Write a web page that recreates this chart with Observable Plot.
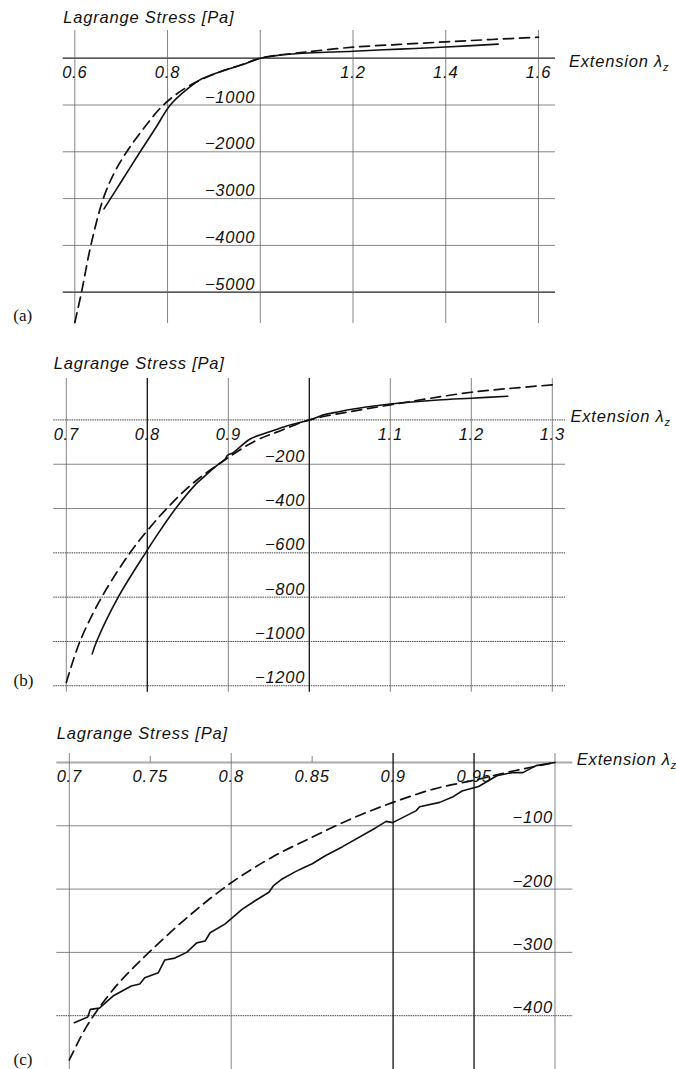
<!DOCTYPE html>
<html><head><meta charset="utf-8">
<script src="https://cdn.jsdelivr.net/npm/d3@7"></script>
<script src="https://cdn.jsdelivr.net/npm/@observablehq/plot@0.6"></script>
<style>
body{margin:0;background:#fff}
#chart{width:676px}
#chart svg{display:block}
</style>
</head><body><div id="chart"></div>
<script>
// ---------- Panel (a) ----------
const A_xGrid = [0.6, 0.8, 1.0, 1.2, 1.4, 1.6];
const A_xLabels = [0.6, 0.8, 1.2, 1.4, 1.6];
const A_yGrid = [-1000, -2000, -3000, -4000];
const A_yGridStrong = [0, -5000];
const A_yLabels = [-1000, -2000, -3000, -4000, -5000];
const A_solidLambda = [0.663, 0.700, 0.741, 0.775, 0.806, 0.845, 0.874, 0.925, 0.961, 1.0, 1.03, 1.07, 1.2, 1.3, 1.4, 1.513];
const A_solidStress = [-3220, -2640, -2000, -1480, -1000, -640, -440, -250, -140, 0, 50, 90, 150, 195, 238, 300];
const A_dashLambda = [0.6, 0.6145, 0.6346, 0.6614, 0.685, 0.712, 0.75, 0.791, 0.838, 0.874, 0.925, 0.961, 1.0, 1.03, 1.07, 1.1, 1.2, 1.3, 1.4, 1.5, 1.6];
const A_dashStress = [-5650, -5000, -4000, -3000, -2450, -2000, -1480, -1000, -640, -450, -250, -135, 0, 55, 100, 135, 235, 295, 350, 400, 450];

// ---------- Panel (b) ----------
const B_xGrid = [0.7, 0.9, 1.1, 1.2, 1.3];
const B_xGridStrong = [0.8, 1.0];
const B_xLabels = [0.7, 0.8, 0.9, 1.1, 1.2, 1.3];
const B_yGrid = [-200, -400];
const B_yGridDotted = [0, -600, -800, -1000, -1200];
const B_yLabels = [-200, -400, -600, -800, -1000, -1200];
const B_solidLambda = [0.732, 0.7374, 0.7641, 0.7978, 0.812, 0.835, 0.86, 0.872, 0.888, 0.896, 0.899, 0.906, 0.927, 0.95, 0.973, 1.0, 1.02, 1.035, 1.07, 1.1, 1.159, 1.2, 1.245];
const B_solidStress = [-1056, -1000, -800, -600, -520, -400, -290, -250, -200, -178, -160, -148, -86, -55, -26, 0, 25, 36, 58, 72, 90, 98, 107];
const B_dashLambda = [0.7, 0.7168, 0.7437, 0.7786, 0.8, 0.824, 0.855, 0.888, 0.933, 0.96, 1.0, 1.05, 1.1, 1.15, 1.2, 1.25, 1.3];
const B_dashStress = [-1185, -1000, -800, -600, -500, -400, -290, -200, -95, -55, 0, 37, 68, 98, 125, 143, 158];

// ---------- Panel (c) ----------
const C_xGrid = [0.7, 0.8, 1.0];
const C_xGridStrong = [0.9, 0.95];
const C_xMinor = [0.75, 0.85];
const C_xLabels = [0.7, 0.75, 0.8, 0.85, 0.9, 0.95];
const C_yGrid = [-100, -200, -300];
const C_yGridDotted = [-400];
const C_yAxis = [0];
const C_yLabels = [-100, -200, -300, -400];
const C_solidLambda = [0.7031, 0.7114, 0.713, 0.7186, 0.727, 0.7383, 0.7435, 0.7466, 0.755, 0.759, 0.7652, 0.7725, 0.7787, 0.7839, 0.787, 0.7963, 0.8067, 0.815, 0.8233, 0.826, 0.8315, 0.84, 0.845, 0.8501, 0.8584, 0.8688, 0.8894, 0.8957, 0.8998, 0.9143, 0.9164, 0.9288, 0.9371, 0.9426, 0.9528, 0.9641, 0.9735, 0.9802, 0.9883, 1.0];
const C_solidStress = [-411, -402, -390, -388, -369, -353, -350, -340, -332, -312, -309, -300, -285, -282, -269, -255, -232, -218, -205, -195, -184, -172, -166, -160, -147, -133, -103, -93, -95, -76, -70, -63, -54, -45, -38, -21, -16, -16, -5, 0];
const C_dashLambda = [0.7, 0.71, 0.72, 0.73, 0.74, 0.75, 0.775, 0.8, 0.825, 0.85, 0.875, 0.9, 0.925, 0.95, 0.975, 1.0];
const C_dashStress = [-470, -420, -382, -350, -323, -298, -240, -190, -150, -118, -88, -63, -42, -28, -13, 0];

const minus = d => d < 0 ? "\u2212" + Math.abs(d) : String(d);
const FONT = {fontFamily: "'Liberation Sans', Arial, sans-serif", fontStyle: "italic", fontSize: 16.5, fill: "#111"};

function panel(o) {
  const solid = o.solidX.map((x, i) => ({x, y: o.solidY[i]}));
  const dash = o.dashX.map((x, i) => ({x, y: o.dashY[i]}));
  const marks = [];
  const g = o.grid;
  if (g.yNormal) marks.push(Plot.ruleY(g.yNormal, {stroke: "#666", strokeWidth: 0.8}));
  if (g.yDotted) marks.push(Plot.ruleY(g.yDotted, {stroke: "#444", strokeWidth: 1, strokeDasharray: "1.5,0.8"}));
  if (g.yLight) marks.push(Plot.ruleY(g.yLight, {stroke: "#aaa", strokeWidth: 1.8}));
  if (g.yStrong) marks.push(Plot.ruleY(g.yStrong, {stroke: "#222", strokeWidth: 1.3}));
  if (g.xNormal) marks.push(Plot.ruleX(g.xNormal, {stroke: "#666", strokeWidth: 0.8}));
  if (g.xStrong) marks.push(Plot.ruleX(g.xStrong, {stroke: "#111", strokeWidth: 1.3}));
  if (g.xMinor) marks.push(Plot.ruleX(g.xMinor, {y1: 0, y2: 0, insetBottom: 6, stroke: "#666", strokeWidth: 0.8}));
  marks.push(Plot.line(dash, {x: "x", y: "y", stroke: "#111", strokeWidth: 1.7, strokeDasharray: o.dashArray, curve: "catmull-rom"}));
  marks.push(Plot.line(solid, {x: "x", y: "y", stroke: "#111", strokeWidth: 1.6, curve: o.solidCurve}));
  marks.push(Plot.text(o.xLabels, {x: d => d, y: () => 0, text: d => String(d), lineAnchor: "top", dy: 8, ...FONT}));
  marks.push(Plot.text(o.yLabels, {x: () => 1.0, y: d => d, text: minus, textAnchor: "end", lineAnchor: "bottom", dx: o.yLabelDx, dy: -2.5, ...FONT}));
  marks.push(Plot.text(["Lagrange Stress [Pa]"], {frameAnchor: "top-left", textAnchor: "start", lineAnchor: "bottom", dy: o.titleDy, ...FONT}));
  marks.push(Plot.text(["Extension \u03bb"], {frameAnchor: "right", y: () => 0, textAnchor: "start", lineAnchor: "bottom", dx: o.extDx, dy: o.extDy, ...FONT}));
  marks.push(Plot.text([o.tag], {frameAnchor: "bottom-left", textAnchor: "start", lineAnchor: "bottom", dx: o.tagDx, dy: o.tagDy, fontFamily: "'Liberation Serif', 'Times New Roman', serif", fontSize: 17, fill: "#111"}));
  const svg = Plot.plot({
    width: 676, height: o.height,
    marginLeft: o.mL, marginRight: o.mR, marginTop: o.mT, marginBottom: o.mB,
    x: {domain: o.xDomain, axis: null},
    y: {domain: o.yDomain, axis: null},
    style: {background: "#fff", overflow: "visible", letterSpacing: "0.8px"},
    marks
  });
  d3.select(svg).selectAll("text").filter(function() { return this.textContent === "Extension \u03bb"; })
    .append("tspan").attr("dy", "0.35em").attr("font-size", 11).text("z");
  d3.select(svg).selectAll("text").filter(function() { return /^\([abc]\)$/.test(this.textContent); })
    .attr("letter-spacing", 0);
  return svg;
}

const root = document.getElementById("chart");
root.append(panel({
  height: 330, mL: 62.8, mR: 121, mT: 30, mB: 7,
  xDomain: [0.5752, 1.6367], yDomain: [-5669, 592],
  grid: {yNormal: A_yGrid, yStrong: A_yGridStrong, xNormal: A_xGrid},
  xLabels: A_xLabels, yLabels: A_yLabels,
  solidX: A_solidLambda, solidY: A_solidStress, dashX: A_dashLambda, dashY: A_dashStress,
  solidCurve: "catmull-rom",
  dashArray: "10,6", yLabelDx: -5, titleDy: -7.3, extDx: 13.5, extDy: 9, tag: "(a)", tagDx: -50, tagDy: -3
}));
root.append(panel({
  height: 370, mL: 53.2, mR: 111, mT: 48, mB: 8.3,
  xDomain: [0.68444, 1.3163], yDomain: [-1229, 187],
  grid: {yNormal: B_yGrid, yDotted: B_yGridDotted, xNormal: B_xGrid, xStrong: B_xGridStrong},
  xLabels: B_xLabels, yLabels: B_yLabels,
  solidX: B_solidLambda, solidY: B_solidStress, dashX: B_dashLambda, dashY: B_dashStress,
  solidCurve: "catmull-rom",
  dashArray: "10,6", yLabelDx: -4, titleDy: -9.5, extDx: 5, extDy: 2.5, tag: "(b)", tagDx: -40.2, tagDy: -6.7
}));
root.append(panel({
  height: 369, mL: 56.3, mR: 103.7, mT: 53, mB: 0,
  xDomain: [0.69228, 1.011], yDomain: [-485, 14.2],
  grid: {yNormal: C_yGrid, yDotted: C_yGridDotted, yLight: C_yAxis, xNormal: C_xGrid, xStrong: C_xGridStrong, xMinor: C_xMinor},
  xLabels: C_xLabels, yLabels: C_yLabels,
  solidX: C_solidLambda, solidY: C_solidStress, dashX: C_dashLambda, dashY: C_dashStress,
  solidCurve: "linear",
  dashArray: "10,6", yLabelDx: -2, titleDy: -14.5, extDx: 4, extDy: 3, tag: "(c)", tagDx: -43.3, tagDy: -5
}));
</script></body></html>
